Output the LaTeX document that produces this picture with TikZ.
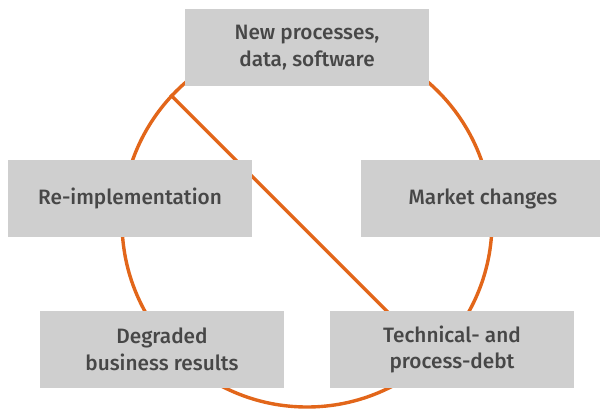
\documentclass[tikz,border=0pt]{standalone}
\usepackage{fontspec}
\setmainfont{Fira Sans}[UprightFont={* Medium}]
\usetikzlibrary{calc}
\definecolor{ringorange}{HTML}{E2661A}
\definecolor{boxgray}{HTML}{CFCFCF}
\definecolor{labelgray}{HTML}{474747}
\begin{document}
\begin{tikzpicture}[x=1pt,y=-1pt,
  stagebox/.style={fill=boxgray, draw=none, minimum width=244pt, minimum height=77pt,
    inner sep=0pt, align=center, text=labelgray,
    font=\fontsize{20.8}{26.5}\selectfont},
  ringline/.style={draw=ringorange, line width=3.4pt}]
  \useasboundingbox (0,0) rectangle (600,410);
  \clip (0,0) rectangle (600,410);
  % the cycle ring and the chord across it
  \node[circle, ringline, minimum size=370pt, inner sep=0pt] (ring) at (307,222) {};
  \coordinate (chordstart) at (ring.137.5);
  \coordinate (chordend) at ($(chordstart)+(250,250)$);
  \draw[ringline] (chordstart) -- (chordend);
  % the five stages
  \node[stagebox] (newproc) at (307,47.5) {New processes,\\data, software};
  \node[stagebox] (reimpl) at (130,198.5) {Re-implementation};
  \node[stagebox] (market) at (483,198.5) {Market changes};
  \node[stagebox] (degraded) at (162,349.5) {Degraded\\business results};
  \node[stagebox] (debt) at (452,349.5) {Technical- and\\process-debt};
\end{tikzpicture}
\end{document}
